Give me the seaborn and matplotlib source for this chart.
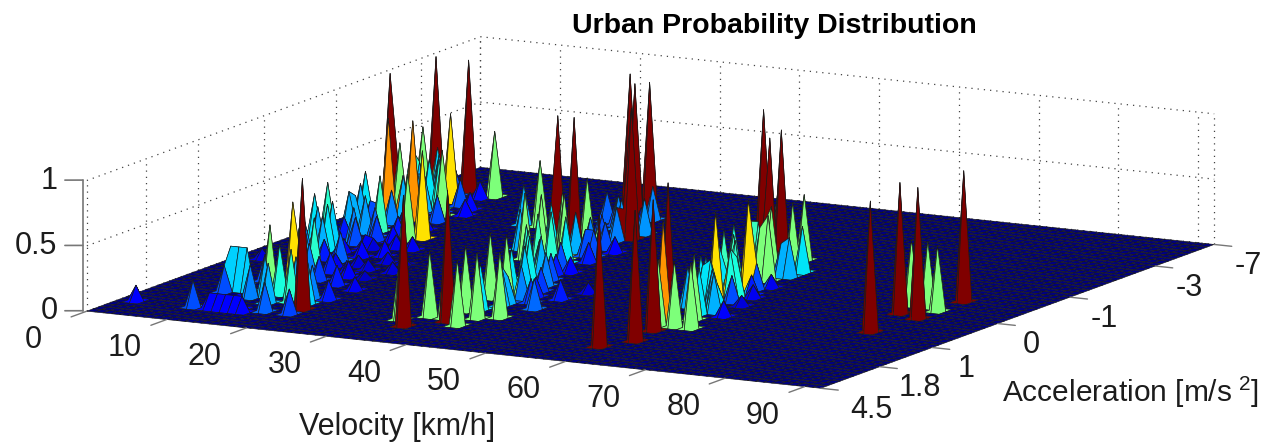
import numpy as np
import matplotlib
matplotlib.use("Agg")
import matplotlib.pyplot as plt
from mpl_toolkits.mplot3d import proj3d
import seaborn as sns

# axis ticks
velocity_ticks = [0, 10, 20, 30, 40, 50, 60, 70, 80, 90]
accel_tick_bins = [0, 9, 17, 27, 38, 51, 60]
accel_tick_labels = ["4.5", "1.8", "1", "0", "-1", "-3", "-7"]
prob_ticks = [0, 0.5, 1]
prob_tick_labels = ["0", "0.5", "1"]

# tall peaks (prob = 1), velocity bin / acceleration bin
red_v = [1, 1, 5, 20, 34, 37, 28, 30, 24, 27, 28, 33, 58, 60, 59, 56, 46, 54, 53, 80, 78, 81, 81]
red_a = [45, 52, 52, 8, 6, 9, 37, 37, 53, 50, 51, 42, 6, 9, 13, 19, 46, 37, 40, 20, 27, 26, 33]

# front ridge
front_v = [34, 36, 39, 36, 39, 41, 35, 37, 32, 42, 42, 38, 43, 33, 36, 33, 31, 30, 28, 21, 30, 25, 28, 31, 30, 31, 26, 33, 30, 19,
           37, 38, 36, 36, 35, 34, 33, 34, 32, 32, 33, 32, 31, 32, 33, 34, 35, 36, 37, 38, 38, 39, 40, 35, 34, 35, 32, 29, 28, 31, 32]
front_a = [10, 10, 8, 13, 11, 12, 18, 18, 8, 16, 20, 19, 23, 28, 29, 35, 34, 32, 32, 43, 39, 35, 36, 40, 41, 43, 47, 44, 49, 43,
           14, 16, 20, 22, 24, 25, 26, 27, 29, 31, 32, 33, 36, 37, 38, 30, 28, 26, 24, 22, 17, 20, 18, 33, 35, 37, 42, 45, 46, 46, 41]
front_p = [.5, .5, .5, .5, .5, .5, .5, .5, .5, .23, .15, .25, .08, .25, .12, .2, .5, .5, .5, .5, .5, .3, .35, .2, .2, .27, .22, .27, .25, .3,
           .35, .3, .35, .33, .36, .38, .4, .3, .42, .4, .35, .5, .3, .25, .2, .2, .15, .2, .25, .18, .2, .15, .18, .15, .2, .12, .22, .25, .2, .15, .25]

# right ridge
right_v = [60, 62, 57, 60, 58, 56, 55, 58, 56, 61, 56, 57, 57, 54, 52, 54, 55, 57, 55, 51, 58, 81, 77, 79, 58,
           59, 59, 58, 57, 59, 56, 58, 58, 55, 57, 56, 58, 59, 60, 60, 62, 59, 56, 55, 57, 54, 56, 58]
right_a = [15, 15, 17, 18, 21, 22, 26, 24, 28, 24, 31, 25, 30, 30, 34, 34, 36, 33, 41, 42, 35, 29, 30, 30, 15,
           20, 22, 23, 23, 25, 24, 27, 26, 28, 28, 29, 30, 28, 27, 21, 20, 31, 33, 34, 35, 36, 38, 37]
right_p = [.5, .5, .75, .5, .2, .3, .3, .15, .15, .08, .1, .67, .67, .42, .38, .42, .5, .5, .5, .5, .3, .5, .5, .5, .5,
           .35, .3, .35, .3, .2, .35, .3, .38, .35, .4, .42, .2, .15, .1, .3, .12, .1, .4, .42, .25, .35, .5, .35]

# low velocity cluster
left_v = [2, 9, 8, 11, 13, 14, 15, 8, 10, 8, 9, 17, 15, 17, 19, 20, 20, 17, 20, 12, 14, 3, 11, 3, 3, 5, 6, 4, 2, 7,
          12, 9, 14, 19, 10, 14, 4, 7, 1, 12, 13, 6, 9, 7, 8, 9, 8, 8, 11, 6, 5, 9, 3, 2, 2, 2, 4, 16, 15, 11, 13, 10, 15,
          12, 13, 14, 16, 18, 13, 15, 11, 14, 12, 10, 9, 13, 16, 11, 8, 7, 9, 6, 8, 5, 4, 12, 7, 9, 10, 6, 4, 8, 3, 11,
          5, 7, 6, 4, 5, 3, 8, 10, 11, 3, 5, 6, 10, 18, 16, 18, 12, 14, 9]
left_a = [5, 5, 11, 5, 5, 6, 5, 12, 12, 14, 16, 6, 9, 10, 10, 6, 12, 17, 16, 13, 14, 23, 21, 31, 33, 33, 35, 36, 40, 36,
          23, 28, 28, 23, 30, 24, 41, 41, 50, 34, 35, 48, 43, 45, 47, 51, 50, 52, 38, 39, 37, 37, 44, 47, 45, 51, 49, 26, 31, 33, 31, 26, 21,
          10, 11, 12, 12, 12, 16, 14, 16, 18, 19, 20, 22, 21, 20, 25, 26, 28, 25, 30, 31, 29, 28, 27, 32, 33, 35, 37, 35, 34, 38, 30,
          42, 41, 43, 45, 46, 47, 44, 41, 44, 50, 50, 44, 46, 20, 23, 26, 5, 5, 12]
left_p = [.12, .2, .2, .12, .12, .12, .12, .33, .33, .2, .2, .22, .3, .4, .33, .19, .15, .15, .1, .5, .67, .08, .4, .35, .4, .15, .28, .25, .35, .42,
          .1, .1, .12, .08, .1, .08, .75, .75, .5, .5, .67, .67, .5, .38, .2, .5, .13, .1, .1, .25, .2, .15, .5, .4, .3, .33, .28, .08, .1, .12, .1, .12, .1,
          .25, .3, .38, .3, .25, .2, .25, .15, .18, .25, .35, .3, .15, .12, .22, .3, .35, .15, .33, .2, .3, .25, .12, .25, .18, .15, .18, .3, .22, .3, .08,
          .3, .22, .3, .28, .35, .3, .18, .2, .12, .3, .2, .28, .13, .06, .08, .05, .12, .12, .33]

n_v, n_a = 91, 61

sns.set_theme(style="white")
plt.rcParams["font.family"] = ["Liberation Sans", "DejaVu Sans"]
plt.rcParams["mathtext.default"] = "regular"
jet = matplotlib.colormaps["jet"]
text_col = "#1c1c1c"

# surface from the peaks
Z = np.zeros((n_a, n_v))
Z[red_a, red_v] = 1.0
for vv, aa, pp in [(front_v, front_a, front_p), (right_v, right_a, right_p), (left_v, left_a, left_p)]:
    for i in range(len(vv)):
        Z[aa[i], vv[i]] = max(Z[aa[i], vv[i]], pp[i])

X, Y = np.meshgrid(np.linspace(0, 92, n_v), np.arange(n_a))

# every cell takes the colour of its highest corner
cell_max = np.maximum.reduce([Z[:-1, :-1], Z[1:, :-1], Z[:-1, 1:], Z[1:, 1:]])
cell_col = jet(cell_max)

fig = plt.figure(figsize=(12.68, 4.42), dpi=100)
S = 1300.0
ax = fig.add_axes([(650.5 - 0.5135 * S) / 1268, (229.5 - 0.5135 * S) / 442, S / 1268, S / 442], projection="3d")
ax.computed_zorder = False
ax.set_proj_type("ortho")
ax.view_init(elev=11.3, azim=-61.8)
ax.set_box_aspect((1, 1, 0.16), zoom=0.885)
ax.set_xlim(0, 92)
ax.set_ylim(0, 60)
ax.set_zlim(0, 1)
ax.set_xticks([])
ax.set_yticks([])
ax.set_zticks([])
ax.set_axis_off()


def label_at(x, y, z, lab, ha="center"):
    # plain 2D text placed at the projected point
    x2, y2, _ = proj3d.proj_transform(x, y, z, ax.get_proj())
    ax.text2D(x2, y2, lab, transform=ax.transData, ha=ha, va="center", fontsize=22, color=text_col, zorder=4)


# back walls, dotted grid
grid_kw = dict(color="#444444", lw=0.9, ls=(0, (1, 4)), zorder=1)
for z in prob_ticks:
    ax.plot([0, 0], [0, 60], [z, z], **grid_kw)
    ax.plot([0, 92], [60, 60], [z, z], **grid_kw)
for a in accel_tick_bins:
    ax.plot([0, 0], [a, a], [0, 1], **grid_kw)
for v in velocity_ticks + [92]:
    ax.plot([v, v], [60, 60], [0, 1], **grid_kw)

surf = ax.plot_surface(X, Y, Z, facecolors=cell_col, rstride=1, cstride=1, shade=False, zorder=2)
surf.set_edgecolor("k")
surf.set_linewidth(0.45)

# axis line and ticks
tick_col = "#777777"
ax.plot([-0.5, -0.5], [0, 0], [0, 1], color=tick_col, lw=1.2, zorder=3)
for z, lab in zip(prob_ticks, prob_tick_labels):
    ax.plot([-0.5, -2.24], [0, -0.62], [z, z], color=tick_col, lw=1.2, zorder=3)
    label_at(-2.84, -1.03, z, lab, ha="right")
for v in velocity_ticks:
    ax.plot([v, v], [0, -2.4], [0, 0], color=tick_col, lw=1, zorder=3)
    nudge = 1.14 if v == 0 else 0
    label_at(v + 3.65 - nudge, -10.8 - nudge * 0.36, 0, str(v))
for a, lab in zip(accel_tick_bins, accel_tick_labels):
    ax.plot([92, 94.2], [a, a], [0, 0], color=tick_col, lw=1, zorder=3)
    nudge = {"4.5": 1.6, "1.8": 0.6}.get(lab, 0)
    label_at(101.1 + nudge, a - 5.9 + nudge * 0.36, 0, lab)

fig.text(774 / 1268, 1 - 26 / 442, "Urban Probability Distribution", ha="center", va="center",
         fontsize=20.5, fontweight="bold", color="black")
fig.text(397 / 1268, 1 - 427 / 442, "Velocity [km/h]", ha="center", va="center", fontsize=22, color=text_col)
fig.text(1130 / 1268, 1 - 392 / 442, "Acceleration [m/s$^{\\ 2}$]", ha="center", va="center", fontsize=21.5, color=text_col)

fig.savefig("out.png", dpi=100)
